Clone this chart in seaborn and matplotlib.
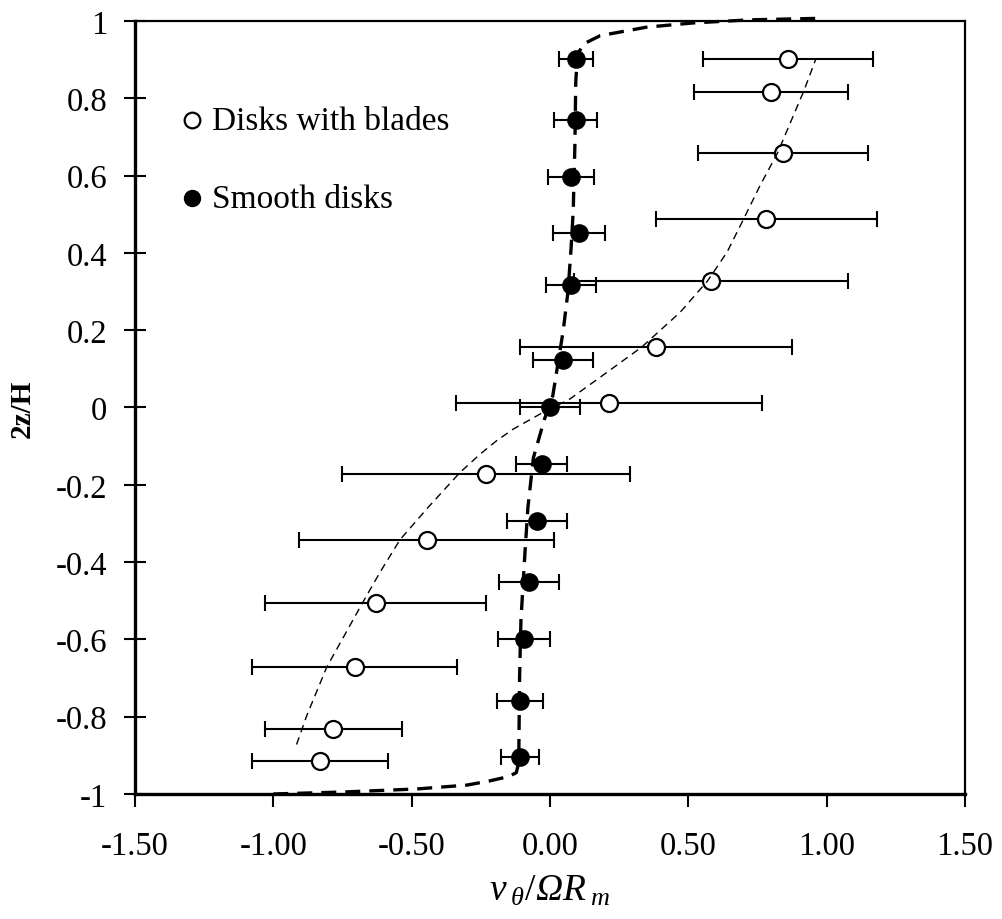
import numpy as np
import pandas as pd
import matplotlib
matplotlib.use("Agg")
import matplotlib.pyplot as plt
import seaborn as sns

# Measured tangential velocity profiles, v_theta / (Omega R_m), versus 2z/H
blades_z = [0.902, 0.817, 0.658, 0.488, 0.328, 0.157, 0.012, -0.172, -0.342, -0.506, -0.672, -0.832, -0.915]
blades_v = [0.859, 0.799, 0.843, 0.782, 0.582, 0.383, 0.214, -0.231, -0.446, -0.630, -0.706, -0.783, -0.831]
blades_err = [0.307, 0.277, 0.307, 0.400, 0.494, 0.492, 0.553, 0.520, 0.460, 0.400, 0.370, 0.247, 0.247]

smooth_z = [0.902, 0.745, 0.597, 0.451, 0.318, 0.122, 0.000, -0.146, -0.293, -0.452, -0.599, -0.760, -0.905]
smooth_v = [0.093, 0.093, 0.076, 0.106, 0.076, 0.047, 0.000, -0.030, -0.046, -0.076, -0.094, -0.108, -0.108]
smooth_err = [0.062, 0.078, 0.084, 0.094, 0.092, 0.107, 0.108, 0.092, 0.108, 0.108, 0.093, 0.083, 0.069]

# Model profiles
smooth_fit_v = [-1.0, -0.75, -0.48, -0.30, -0.217, -0.15, -0.122, -0.113, -0.112, -0.11, -0.105, -0.09,
                -0.08, -0.06, -0.02, 0.01, 0.048, 0.065, 0.076, 0.084, 0.09, 0.093, 0.097, 0.105,
                0.12, 0.181, 0.349, 0.518, 0.723, 0.984]
smooth_fit_z = [-1.0, -0.995, -0.987, -0.977, -0.966, -0.955, -0.945, -0.92, -0.85, -0.70, -0.55, -0.37,
                -0.26, -0.13, -0.03, 0.03, 0.20, 0.30, 0.41, 0.51, 0.68, 0.84, 0.89, 0.92,
                0.94, 0.962, 0.984, 0.995, 1.003, 1.007]

blades_fit_v = [-0.916, -0.879, -0.807, -0.678, -0.614, -0.542, -0.440, -0.325, -0.253, -0.193,
                -0.133, -0.036, 0.072, 0.181, 0.331, 0.470, 0.570, 0.640, 0.700, 0.759, 0.822, 0.918, 0.961]
blades_fit_z = [-0.872, -0.797, -0.672, -0.506, -0.426, -0.342, -0.258, -0.168, -0.121, -0.086,
                -0.056, -0.017, 0.022, 0.078, 0.156, 0.246, 0.328, 0.402, 0.488, 0.574, 0.658, 0.820, 0.902]

x_ticks = [-1.5, -1.0, -0.5, 0.0, 0.5, 1.0, 1.5]
x_tick_labels = ["-1.50", "-1.00", "-0.50", "0.00", "0.50", "1.00", "1.50"]
y_ticks = [-1.0, -0.8, -0.6, -0.4, -0.2, 0.0, 0.2, 0.4, 0.6, 0.8, 1.0]
y_tick_labels = ["-1", "-0.8", "-0.6", "-0.4", "-0.2", "0", "0.2", "0.4", "0.6", "0.8", "1"]

sns.set_theme(style="white")
plt.rcParams["font.family"] = ["Liberation Serif", "DejaVu Serif"]
plt.rcParams["text.color"] = "black"
plt.rcParams["axes.labelcolor"] = "black"
plt.rcParams["mathtext.fontset"] = "custom"
plt.rcParams["mathtext.rm"] = "Liberation Serif"
plt.rcParams["mathtext.it"] = "Liberation Serif:italic"
plt.rcParams["mathtext.sf"] = "Liberation Serif:italic"

blades = pd.DataFrame({"v": blades_v, "z": blades_z, "err": blades_err})
smooth = pd.DataFrame({"v": smooth_v, "z": smooth_z, "err": smooth_err})
smooth_fit = pd.DataFrame({"v": smooth_fit_v, "z": smooth_fit_z})
blades_fit = pd.DataFrame({"v": blades_fit_v, "z": blades_fit_z})

fig = plt.figure(figsize=(10.02, 9.2), dpi=100)
ax = fig.add_axes([0.1347, 0.1359, 0.8284, 0.8402])

# Horizontal error bars
for df in (blades, smooth):
    ax.errorbar(df["v"], df["z"], xerr=df["err"], fmt="none", ecolor="black",
                elinewidth=1.5, capsize=5.8, capthick=1.5, zorder=2)

# Model curves
sns.lineplot(data=smooth_fit, x="v", y="z", sort=False, estimator=None, ax=ax,
             color="black", linewidth=2.4, zorder=3, clip_on=False)
ax.lines[-1].set_dashes([4.5, 2.7])
sns.lineplot(data=blades_fit, x="v", y="z", sort=False, estimator=None, ax=ax,
             color="black", linewidth=1.0, zorder=5)
ax.lines[-1].set_dashes([5.5, 3.8])

# Measured points
sns.scatterplot(data=blades, x="v", y="z", ax=ax, marker="o", s=150, facecolor="white",
                edgecolor="black", linewidth=1.6, zorder=4, label="Disks with blades")
sns.scatterplot(data=smooth, x="v", y="z", ax=ax, marker="o", s=140, color="black",
                edgecolor="black", linewidth=1.6, zorder=4, label="Smooth disks")

ax.set_xlim(-1.5, 1.5)
ax.set_ylim(-1.0, 1.0)
ax.set_xticks(x_ticks)
ax.set_xticklabels(x_tick_labels)
ax.set_yticks(y_ticks)
ax.set_yticklabels(y_tick_labels)

ax.tick_params(axis="y", direction="inout", length=16, width=1.5, pad=12,
               labelsize=23.5, left=True, color="black", labelcolor="black")
ax.tick_params(axis="x", direction="out", length=9, width=1.5, pad=17,
               labelsize=23.5, bottom=True, color="black", labelcolor="black")

for side in ("left", "bottom"):
    ax.spines[side].set_linewidth(2.4)
for side in ("top", "right"):
    ax.spines[side].set_linewidth(1.6)
for sp in ax.spines.values():
    sp.set_color("black")
    sp.set_visible(True)

ax.set_xlabel(r"$v_{\;\theta}/\mathsf{\Omega}R_{\;m}$", fontsize=27, labelpad=9, color="black")
ax.set_ylabel("2z/H", fontsize=21, fontweight="bold", labelpad=14, color="black")

leg = ax.legend(loc="upper left", bbox_to_anchor=(0.0566, 0.891), frameon=False,
                fontsize=24, handlelength=0.6, handletextpad=0.3, labelspacing=1.42,
                borderaxespad=0.0, borderpad=0.0, markerscale=0.92)
for t in leg.get_texts():
    t.set_color("black")

fig.savefig("out.png", dpi=100, facecolor="white")
